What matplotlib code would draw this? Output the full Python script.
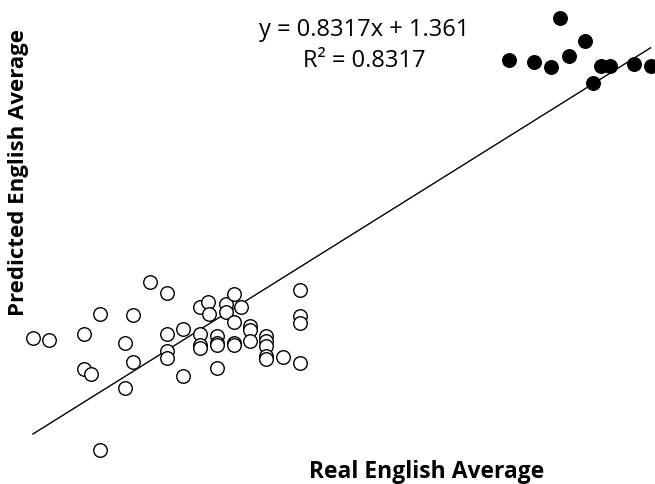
import numpy as np
import matplotlib
matplotlib.use('Agg')
import matplotlib.pyplot as plt

# open circles (lower group)
open_x = [5.00, 5.13, 5.41, 5.54, 5.41, 5.47, 5.54, 5.81, 5.74, 5.81, 5.74, 5.94,
          6.08, 6.08, 6.08, 6.08, 6.21, 6.21, 6.35, 6.41, 6.42, 6.35, 6.35, 6.35,
          6.48, 6.48, 6.48, 6.48, 6.56, 6.56, 6.62, 6.68, 6.62, 6.62, 6.62, 6.75,
          6.75, 6.75, 6.88, 6.88, 6.88, 6.88, 6.88, 7.02, 7.15, 7.15, 7.15, 7.15]
open_y = [6.55, 6.53, 6.59, 6.81, 6.22, 6.16, 5.35, 6.80, 6.50, 6.29, 6.01, 7.15,
          7.03, 6.59, 6.41, 6.33, 6.65, 6.14, 6.88, 6.94, 6.81, 6.59, 6.47, 6.44,
          6.57, 6.50, 6.47, 6.23, 6.91, 6.83, 7.02, 6.88, 6.72, 6.49, 6.47, 6.68,
          6.64, 6.52, 6.57, 6.52, 6.46, 6.36, 6.32, 6.35, 7.06, 6.78, 6.71, 6.28]

# filled circles (upper group)
fill_x = [8.84, 9.04, 9.18, 9.25, 9.32, 9.45, 9.58, 9.65, 9.52, 9.85, 9.98]
fill_y = [9.53, 9.51, 9.46, 9.98, 9.57, 9.73, 9.47, 9.47, 9.28, 9.49, 9.47]

slope = 0.8317
intercept = 1.361
r2 = 0.8317

fig = plt.figure(figsize=(6.55, 4.85), dpi=100)
ax = fig.add_axes([0, 0, 1, 1])
ax.set_xlim(4.734, 10.016)
ax.set_ylim(4.983, 10.185)
ax.axis('off')

ax.scatter(open_x, open_y, s=95, facecolors='white', edgecolors='black', linewidths=1.0, zorder=3)
ax.scatter(fill_x, fill_y, s=95, facecolors='black', edgecolors='black', linewidths=1.0, zorder=3)

lx = np.array([5.0, 9.98])
ax.plot(lx, slope * lx + intercept, color='black', linewidth=1.0, zorder=2)

ax.text(364 / 655, 1 - 30 / 485, 'y = %.4fx + %.3f' % (slope, intercept), transform=ax.transAxes,
        ha='center', va='center', fontsize=17, family='Open Sans')
ax.text(364 / 655, 1 - 61 / 485, 'R² = %.4f' % r2, transform=ax.transAxes,
        ha='center', va='center', fontsize=17, family='Open Sans')

ax.text(427 / 655, 1 - 472 / 485, 'Real English Average', transform=ax.transAxes,
        ha='center', va='center', fontsize=16.5, family='Open Sans', fontweight='bold')
ax.text(19 / 655, 1 - 173 / 485, 'Predicted English Average', transform=ax.transAxes,
        ha='center', va='center', fontsize=16, family='Open Sans', fontweight='bold', rotation=90)

fig.savefig('out.png', dpi=100)
